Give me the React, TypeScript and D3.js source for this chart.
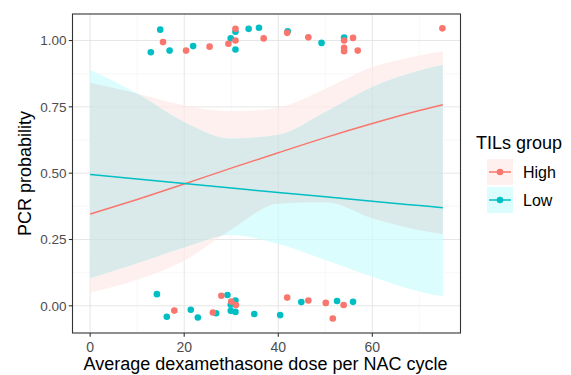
import React from "react";
import * as d3 from "d3";

// jittered observations (dose, outcome)
const highX = [15.5, 20.4, 25.4, 29.4, 30.9, 30.9, 36.9, 41.9, 46.4, 54.0, 55.9, 54.0, 54.0, 56.9, 74.9,
  17.9, 26.1, 27.9, 30.0, 31.0, 41.9, 46.4, 50.1, 53.9, 51.6];
const highY = [0.994, 0.962, 0.977, 0.988, 1.044, 1.0, 1.008, 1.029, 1.012, 1.0, 1.01, 0.973, 0.96, 0.962, 1.046,
  -0.018, -0.025, 0.038, 0.016, 0.003, 0.031, 0.02, 0.011, 0.003, -0.048];
const lowX = [14.9, 12.9, 16.9, 21.9, 29.9, 30.9, 30.9, 33.7, 35.9, 42.0, 49.2, 54.0,
  14.2, 16.3, 21.4, 22.9, 26.8, 29.2, 30.9, 29.9, 29.9, 30.9, 34.9, 40.4, 44.9, 52.5, 55.9];
const lowY = [1.041, 0.956, 0.962, 0.979, 1.008, 1.033, 0.966, 1.044, 1.048, 1.035, 0.991, 1.011,
  0.044, -0.041, -0.015, -0.044, -0.028, 0.041, 0.02, 0.004, -0.019, -0.023, -0.031, -0.035, 0.014, 0.018, 0.015];

// smoothed fit + confidence band, read at these doses
const fitX = [0, 10, 20, 30, 40, 50, 60, 70, 75];
const highFit = [0.346, 0.401, 0.459, 0.519, 0.577, 0.634, 0.687, 0.736, 0.758];
const highUpper = [0.841, 0.8, 0.756, 0.733, 0.747, 0.818, 0.9, 0.944, 0.96];
const highLower = [0.05, 0.098, 0.17, 0.288, 0.385, 0.39, 0.33, 0.285, 0.27];
const lowFit = [0.495, 0.478, 0.461, 0.444, 0.427, 0.411, 0.394, 0.378, 0.37];
const lowUpper = [0.89, 0.8, 0.693, 0.63, 0.645, 0.731, 0.825, 0.887, 0.909];
const lowLower = [0.104, 0.16, 0.22, 0.267, 0.233, 0.173, 0.11, 0.054, 0.035];

const xTicks = [0, 20, 40, 60];
const yTicks = [0, 0.25, 0.5, 0.75, 1.0];
const groups = ["High", "Low"];

const RED = "#F8766D";
const CYAN = "#00BFC4";

const App: React.FC = () => {
  const W = 571;
  const H = 375;
  const left = 72.5, right = 460.5, top = 14, bottom = 333;

  const x = d3.scaleLinear().domain([-3.75, 78.75]).range([left, right]);
  const y = d3.scaleLinear().domain([-0.1025, 1.1]).range([bottom, top]);

  const band = (lo: number[], hi: number[]) =>
    d3.area<number>()
      .x((_, i) => x(fitX[i]))
      .y0((_, i) => y(lo[i]))
      .y1((_, i) => y(hi[i]))
      .curve(d3.curveMonotoneX)(fitX) || "";

  const fitLine = (vals: number[]) =>
    d3.line<number>()
      .x((_, i) => x(fitX[i]))
      .y((d) => y(d))
      .curve(d3.curveMonotoneX)(vals) || "";

  const highBand = band(highLower, highUpper);
  const lowBand = band(lowLower, lowUpper);

  const minorX = [10, 30, 50, 70];
  const minorY = [-0.125, 0.125, 0.375, 0.625, 0.875];

  const font = "'Liberation Sans', Arial, sans-serif";

  return (
    <svg width={W} height={H} style={{ position: "absolute", left: 0, top: 0, background: "#fff" }} fontFamily={font}>
      <defs>
        <clipPath id="panel">
          <rect x={left} y={top} width={right - left} height={bottom - top} />
        </clipPath>
        <clipPath id="lowBandClip">
          <path d={lowBand} />
        </clipPath>
      </defs>

      {/* grid */}
      <g clipPath="url(#panel)">
        {minorX.map((t) => (
          <line key={"mx" + t} x1={x(t)} x2={x(t)} y1={top} y2={bottom} stroke="#F4F4F4" strokeWidth={0.6} />
        ))}
        {minorY.map((t) => (
          <line key={"my" + t} y1={y(t)} y2={y(t)} x1={left} x2={right} stroke="#F4F4F4" strokeWidth={0.6} />
        ))}
        {xTicks.map((t) => (
          <line key={"gx" + t} x1={x(t)} x2={x(t)} y1={top} y2={bottom} stroke="#EDEDED" strokeWidth={1} />
        ))}
        {yTicks.map((t) => (
          <line key={"gy" + t} y1={y(t)} y2={y(t)} x1={left} x2={right} stroke="#EDEDED" strokeWidth={1} />
        ))}
      </g>

      {/* confidence bands */}
      <path d={highBand} fill="#FEF0EF" />
      <path d={lowBand} fill="#DCFDFE" />
      <path d={highBand} fill="#DAE9E9" clipPath="url(#lowBandClip)" />
      {xTicks.map((t) => (
        <line key={"gx2" + t} x1={x(t)} x2={x(t)} y1={top} y2={bottom} stroke="#000" strokeOpacity={0.03} />
      ))}
      {yTicks.map((t) => (
        <line key={"gy2" + t} y1={y(t)} y2={y(t)} x1={left} x2={right} stroke="#000" strokeOpacity={0.03} />
      ))}

      {/* fitted curves */}
      <path d={fitLine(highFit)} fill="none" stroke={RED} strokeWidth={1.5} />
      <path d={fitLine(lowFit)} fill="none" stroke={CYAN} strokeWidth={1.5} />

      {/* points */}
      {lowX.map((v, i) => (
        <circle key={"l" + i} cx={x(v)} cy={y(lowY[i])} r={3.3} fill={CYAN} />
      ))}
      {highX.map((v, i) => (
        <circle key={"h" + i} cx={x(v)} cy={y(highY[i])} r={3.3} fill={RED} />
      ))}

      {/* panel border */}
      <rect x={left} y={top} width={right - left} height={bottom - top} fill="none" stroke="#333" strokeWidth={1.1} />

      {/* x axis */}
      {xTicks.map((t) => (
        <g key={"xt" + t}>
          <line x1={x(t)} x2={x(t)} y1={bottom} y2={bottom + 3.7} stroke="#333" strokeWidth={1.1} />
          <text x={x(t)} y={bottom + 18.5} textAnchor="middle" fontSize={14} fill="#4D4D4D">{t}</text>
        </g>
      ))}
      <text x={(left + right) / 2 - 1} y={370} textAnchor="middle" fontSize={18} fill="#000">
        Average dexamethasone dose per NAC cycle
      </text>

      {/* y axis */}
      {yTicks.map((t) => (
        <g key={"yt" + t}>
          <line x1={left - 3.7} x2={left} y1={y(t)} y2={y(t)} stroke="#333" strokeWidth={1.1} />
          <text x={left - 6} y={y(t)} dy="0.35em" textAnchor="end" fontSize={13.5} fill="#4D4D4D">
            {d3.format(".2f")(t)}
          </text>
        </g>
      ))}
      <text transform={`translate(31,${(top + bottom) / 2}) rotate(-90)`} textAnchor="middle" fontSize={18} fill="#000">
        PCR probability
      </text>

      {/* legend */}
      <text x={476} y={149} fontSize={18} fill="#000">TILs group</text>
      {groups.map((g, i) => {
        const ky = 159 + i * 28;
        const col = i === 0 ? RED : CYAN;
        return (
          <g key={g}>
            <rect x={487} y={ky} width={26} height={26} fill={i === 0 ? "#FEF0EF" : "#DCFDFE"} />
            <line x1={489} x2={511} y1={ky + 13} y2={ky + 13} stroke={col} strokeWidth={1.5} />
            <circle cx={500} cy={ky + 13} r={3.3} fill={col} />
            <text x={523} y={ky + 13} dy="0.35em" fontSize={16} fill="#000">{g}</text>
          </g>
        );
      })}
    </svg>
  );
};

export default App;
